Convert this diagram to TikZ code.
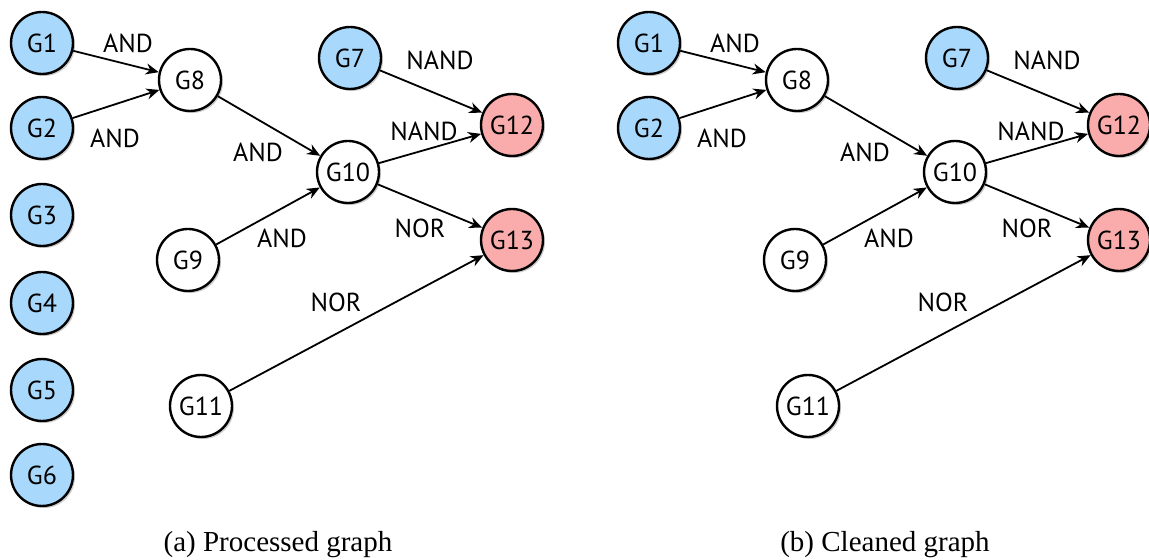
\documentclass[tikz,border=0pt]{standalone}
\usepackage{fontspec}
\setmainfont{Liberation Serif}
\newfontfamily\gatefont{PT Sans}
\usetikzlibrary{arrows.meta,shadows}

\definecolor{inblue}{RGB}{168,216,252}
\definecolor{outred}{RGB}{250,172,172}

\tikzset{
  gate/.style={circle,draw,line width=1.2pt,minimum size=31pt,inner sep=0pt,
    fill=white,font=\gatefont\fontsize{13}{15}\selectfont,
    drop shadow={opacity=0.4,shadow xshift=1pt,shadow yshift=-1pt}},
  ingate/.style={gate,fill=inblue},
  outgate/.style={gate,fill=outred},
  wire/.style={-{Stealth[length=6.5pt,width=5.5pt]},line width=0.9pt},
  gatelabel/.style={font=\gatefont\fontsize{13}{15}\selectfont},
  caption/.style={font=\fontsize{14.5}{17}\selectfont}
}

\begin{document}
\begin{tikzpicture}[x=0.5pt,y=-0.5pt]
\useasboundingbox (0,0) rectangle (1149,560);

% both panels share the same cleaned part
\foreach \p/\dx in {a/0,b/607}{
  \begin{scope}[xshift=\dx*0.5pt]
    \node[ingate] (\p1) at (42,43) {G1};
    \node[ingate] (\p2) at (42,128) {G2};
    \node[ingate] (\p7) at (350,58) {G7};
    \node[gate] (\p8) at (190,80) {G8};
    \node[gate] (\p9) at (188,260) {G9};
    \node[gate] (\p10) at (348,172) {G10};
    \node[gate] (\p11) at (201,406) {G11};
    \node[outgate] (\p12) at (512,125) {G12};
    \node[outgate] (\p13) at (512,240) {G13};

    \draw[wire] (\p1) -- (\p8);
    \draw[wire] (\p2) -- (\p8);
    \draw[wire] (\p8) -- (\p10);
    \draw[wire] (\p9) -- (\p10);
    \draw[wire] (\p7) -- (\p12);
    \draw[wire] (\p10) -- (\p12);
    \draw[wire] (\p10) -- (\p13);
    \draw[wire] (\p11) -- (\p13);

    \node[gatelabel] (\p l1) at (128,43) {AND};
    \node[gatelabel] (\p l2) at (115,138) {AND};
    \node[gatelabel] (\p l8) at (258,152) {AND};
    \node[gatelabel] (\p l9) at (282,238) {AND};
    \node[gatelabel] (\p l7) at (440,60) {NAND};
    \node[gatelabel] (\p l10a) at (424,131) {NAND};
    \node[gatelabel] (\p l10b) at (420,228) {NOR};
    \node[gatelabel] (\p l11) at (336,302) {NOR};
  \end{scope}
}

% inputs removed by cleaning
\node[ingate] (a3) at (42,215) {G3};
\node[ingate] (a4) at (42,303) {G4};
\node[ingate] (a5) at (42,390) {G5};
\node[ingate] (a6) at (42,475) {G6};

\node[caption] (capa) at (278,545) {(a) Processed graph};
\node[caption] (capb) at (885,545) {(b) Cleaned graph};
\end{tikzpicture}
\end{document}
